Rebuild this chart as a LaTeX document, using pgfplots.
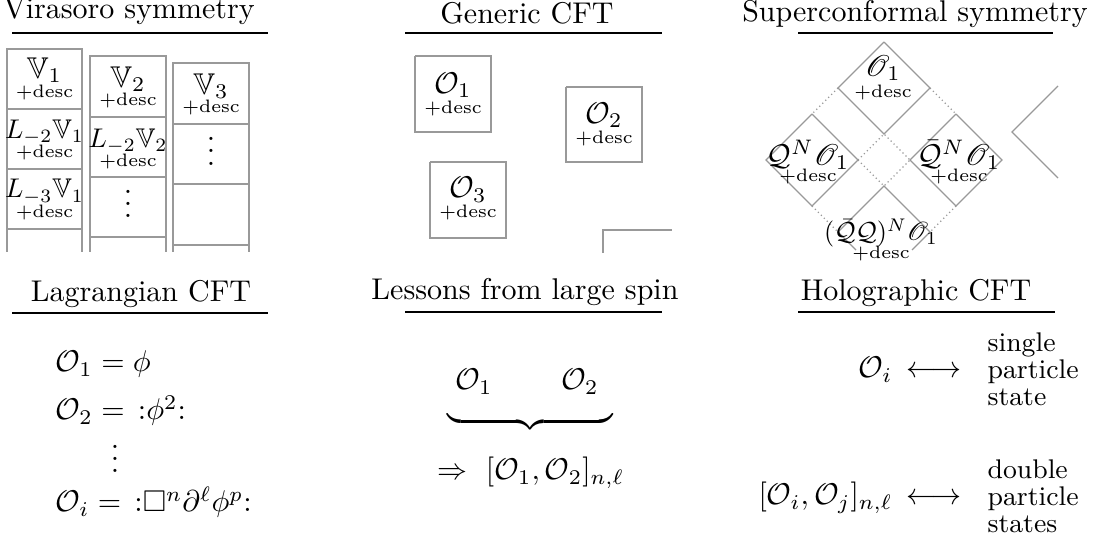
\documentclass[border=0pt]{standalone}
\usepackage{amsmath,amssymb}
\usepackage{mathrsfs}
\usepackage{graphicx}
\usepackage{pgfplots}
\pgfplotsset{compat=1.18}
\pgfplotsset{
  box/.style={black!40, line width=0.4pt, mark=none},
  dots/.style={black!40, densely dotted, line width=0.4pt, mark=none},
  rule/.style={black, line width=0.5pt, mark=none},
}
\newcommand{\desc}{{\fontsize{6}{7}\selectfont +desc}}
\begin{document}
\begin{tikzpicture}
\begin{axis}[
  width=365.67pt, height=183.33pt, scale only axis,
  xmin=0, xmax=1097, ymin=0, ymax=550, y dir=reverse,
  hide axis, clip=false, unbounded coords=jump,
  nodes={inner sep=0pt},
]
% title rules
\addplot[rule] coordinates {(12,33) (268,33)};
\addplot[rule] coordinates {(405,33) (662,33)};
\addplot[rule] coordinates {(798,33) (1053,33)};
\addplot[rule] coordinates {(12,313) (268,313)};
\addplot[rule] coordinates {(405,312) (662,312)};
\addplot[rule] coordinates {(798,312) (1055,312)};

% Virasoro columns
\addplot[box] coordinates {(7,252) (7,49) (82,49) (82,252) (nan,nan) (7,109) (82,109) (nan,nan) (7,169) (82,169) (nan,nan) (7,229) (82,229)};
\addplot[box] coordinates {(90,252) (90,56) (166,56) (166,252) (nan,nan) (90,117) (166,117) (nan,nan) (90,177) (166,177) (nan,nan) (90,237) (166,237)};
\addplot[box] coordinates {(173,252) (173,63) (249,63) (249,252) (nan,nan) (173,124) (249,124) (nan,nan) (173,184) (249,184) (nan,nan) (173,245) (249,245)};

% Generic CFT boxes
\addplot[box] coordinates {(415,56) (491,56) (491,132) (415,132) (415,56)};
\addplot[box] coordinates {(566,87) (642,87) (642,162) (566,162) (566,87)};
\addplot[box] coordinates {(430,162) (506,162) (506,238) (430,238) (430,162)};
\addplot[box] coordinates {(603,253) (603,230) (672,230)};

% Superconformal diamonds
\addplot[box] coordinates {(884,42) (930,88) (884,134) (838,88) (884,42)};
\addplot[box] coordinates {(812,114) (858,160) (812,206) (766,160) (812,114)};
\addplot[box] coordinates {(956,114) (1002,160) (956,206) (910,160) (956,114)};
\addplot[box] coordinates {(856,250) (838,232) (884,186) (930,232) (912,250)};
\addplot[box] coordinates {(1058,86) (1012,132) (1058,178)};
\addplot[dots] coordinates {(838,88) (812,114) (nan,nan) (930,88) (956,114) (nan,nan) (858,160) (884,134) (910,160) (nan,nan) (858,160) (884,186) (910,160) (nan,nan) (812,206) (838,232) (nan,nan) (956,206) (930,232)};

% titles
\node[anchor=base] at (axis cs:129,18) {Virasoro symmetry};
\node[anchor=base] at (axis cs:527,23) {Generic CFT};
\node[anchor=base] at (axis cs:915,21) {Superconformal symmetry};
\node[anchor=base] at (axis cs:141,302) {Lagrangian CFT};
\node[anchor=base] at (axis cs:525,300) {Lessons from large spin};
\node[anchor=base] at (axis cs:916,301) {Holographic CFT};

% Virasoro cells
\node[anchor=base] at (axis cs:44.5,78) {$\mathbb{V}_1$};
\node[anchor=base] at (axis cs:44.5,97) {\desc};
\node[anchor=base] at (axis cs:44.5,138) {\scalebox{0.9}{$L_{-2}\mathbb{V}_1$}};
\node[anchor=base] at (axis cs:44.5,157) {\desc};
\node[anchor=base] at (axis cs:44.5,198) {\scalebox{0.9}{$L_{-3}\mathbb{V}_1$}};
\node[anchor=base] at (axis cs:44.5,217) {\desc};
\node[anchor=base] at (axis cs:128,87) {$\mathbb{V}_2$};
\node[anchor=base] at (axis cs:128,105) {\desc};
\node[anchor=base] at (axis cs:128,147) {\scalebox{0.9}{$L_{-2}\mathbb{V}_2$}};
\node[anchor=base] at (axis cs:128,166) {\desc};
\node[anchor=base] at (axis cs:128,218) {$\vdots$};
\node[anchor=base] at (axis cs:211,94) {$\mathbb{V}_3$};
\node[anchor=base] at (axis cs:211,112) {\desc};
\node[anchor=base] at (axis cs:211,165) {$\vdots$};

% Generic CFT cells
\node[anchor=base] at (axis cs:453,93) {$\mathcal{O}_1$};
\node[anchor=base] at (axis cs:453,113) {\desc};
\node[anchor=base] at (axis cs:604,123) {$\mathcal{O}_2$};
\node[anchor=base] at (axis cs:604,143) {\desc};
\node[anchor=base] at (axis cs:468,198) {$\mathcal{O}_3$};
\node[anchor=base] at (axis cs:468,218) {\desc};

% Superconformal cells
\node[anchor=base] at (axis cs:883,76) {$\mathscr{O}_1$};
\node[anchor=base] at (axis cs:883,97) {\desc};
\node[anchor=base] at (axis cs:808,165) {$\mathcal{Q}^N\mathscr{O}_1$};
\node[anchor=base] at (axis cs:808,181) {\desc};
\node[anchor=base] at (axis cs:959,165) {$\bar{\mathcal{Q}}^N\mathscr{O}_1$};
\node[anchor=base] at (axis cs:959,181) {\desc};
\node[anchor=base] at (axis cs:881,241) {\scalebox{0.87}{$(\bar{\mathcal{Q}}\mathcal{Q})^N\mathscr{O}_1$}};
\node[anchor=base] at (axis cs:881,259) {\desc};

% Lagrangian CFT
\node[anchor=base west] at (axis cs:55,372) {$\mathcal{O}_1 = \phi$};
\node[anchor=base west] at (axis cs:55,420) {$\mathcal{O}_2 = \,{:}\phi^2{:}$};
\node[anchor=base] at (axis cs:115,473) {$\vdots$};
\node[anchor=base west] at (axis cs:55,512) {$\mathcal{O}_i = \,{:}\Box^n\partial^\ell\phi^p{:}$};

% Lessons from large spin
\node[anchor=base] at (axis cs:474,390) {$\mathcal{O}_1$};
\node[anchor=base] at (axis cs:580,390) {$\mathcal{O}_2$};
\node[anchor=north] at (axis cs:530,410) {$\underbrace{\hspace{55pt}}$};
\node[anchor=base west] at (axis cs:437,480) {$\Rightarrow\ [\mathcal{O}_1,\mathcal{O}_2]_{n,\ell}$};

% Holographic CFT
\node[anchor=base east] at (axis cs:893,378) {$\mathcal{O}_i$};
\node[anchor=base west] at (axis cs:906,378) {$\longleftrightarrow$};
\node[anchor=base west] at (axis cs:987,352) {\small single};
\node[anchor=base west] at (axis cs:987,379) {\small particle};
\node[anchor=base west] at (axis cs:987,406) {\small state};
\node[anchor=base east] at (axis cs:893,505) {$[\mathcal{O}_i,\mathcal{O}_j]_{n,\ell}$};
\node[anchor=base west] at (axis cs:906,505) {$\longleftrightarrow$};
\node[anchor=base west] at (axis cs:987,479) {\small double};
\node[anchor=base west] at (axis cs:987,506) {\small particle};
\node[anchor=base west] at (axis cs:987,533) {\small states};
\end{axis}
\pgfresetboundingbox
\path (current axis.south west) rectangle (current axis.north east);
\end{tikzpicture}
\end{document}
